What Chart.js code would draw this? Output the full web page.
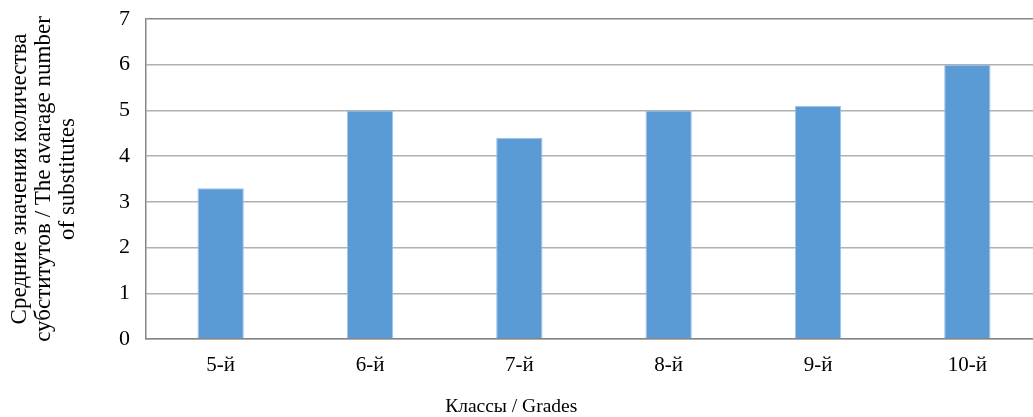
<!DOCTYPE html>
<html>
<head>
<meta charset="utf-8">
<script src="https://cdn.jsdelivr.net/npm/chart.js@4"></script>
<style>
  html, body { margin: 0; padding: 0; background: #fff; overflow: hidden; }
</style>
</head>
<body>
<!-- a bit wider than the window: the plot runs past the right edge of the picture -->
<canvas id="chart" width="1042" height="417"></canvas>
<script>
const grades = ['5-й', '6-й', '7-й', '8-й', '9-й', '10-й'];
const avgSubstitutes = [3.3, 5.0, 4.4, 5.0, 5.1, 6.0];
const yTitle = ['Средние значения количества', 'субститутов / The avarage number', 'of substitutes'];
const xTitle = 'Классы / Grades';

const font = 'Liberation Serif';

new Chart(document.getElementById('chart'), {
    type: 'bar',
    data: {
        labels: grades,
        datasets: [{
            data: avgSubstitutes,
            backgroundColor: '#5b9bd5',
            borderColor: '#9dc3e6',
            borderWidth: { left: 1, right: 1, top: 1, bottom: 0 },
            categoryPercentage: 1,
            barPercentage: 0.31
        }]
    },
    options: {
        responsive: false,
        animation: false,
        layout: { padding: { top: 19, right: 0, left: 0, bottom: 0 } },
        plugins: {
            legend: { display: false },
            tooltip: { enabled: false },
            // x axis title sits near the middle of the picture, not of the plot
            title: {
                display: true,
                position: 'bottom',
                text: xTitle + '\u00a0\u00a0\u00a0\u00a0',
                color: '#000',
                font: { family: font, size: 19.5, weight: 'normal', lineHeight: 1 },
                padding: { top: 10.5, bottom: 0 }
            }
        },
        scales: {
            x: {
                grid: { display: false, drawTicks: false },
                border: { display: true, color: '#868686', width: 1.5 },
                ticks: { color: '#000', font: { family: font, size: 21 }, padding: 14 },
                afterFit(scale) { scale.height = 48; }
            },
            y: {
                min: 0,
                max: 7,
                grid: {
                    drawTicks: false,
                    color: ctx => ctx.tick && ctx.tick.value === 7 ? '#888888' : '#b0b0b0',
                    lineWidth: 1.5
                },
                border: { display: true, color: '#868686', width: 1.5 },
                ticks: {
                    stepSize: 1,
                    color: '#000',
                    font: { family: font, size: 22 },
                    padding: 16
                },
                title: {
                    display: true,
                    text: yTitle,
                    color: '#000',
                    font: { family: font, size: 23, lineHeight: 1.05 },
                    padding: { top: 8, bottom: 0 }
                },
                afterFit(scale) {
                    scale.width = 146;
                    scale.paddingTop = 0;
                    scale.paddingBottom = 0;
                }
            }
        }
    }
});
</script>
</body>
</html>
